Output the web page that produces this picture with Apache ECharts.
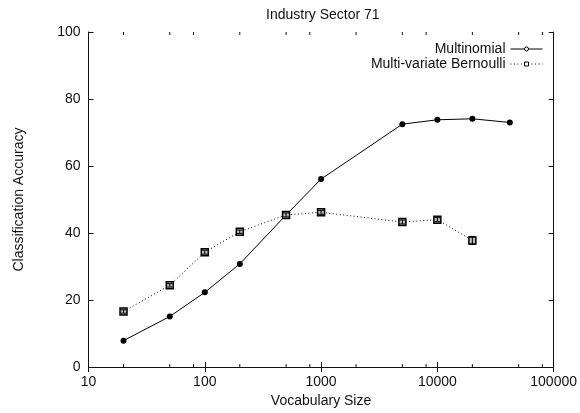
<!DOCTYPE html>
<html>
<head>
<meta charset="utf-8">
<script src="https://cdn.jsdelivr.net/npm/echarts@6/dist/echarts.min.js"></script>
<style>
  html, body { margin: 0; padding: 0; background: #fff; }
  #chart { width: 580px; height: 413px; }
</style>
</head>
<body>
<div id="chart"></div>
<script>
// vocabulary sizes and accuracies
const multinomialX = [20, 50, 100, 200, 500, 1000, 5000, 10000, 20000, 42000]
const multinomialY = [7.9, 15.1, 22.3, 30.8, 45.4, 56.1, 72.5, 73.8, 74.1, 73.0]
const bernoulliX = [20, 50, 100, 200, 500, 1000, 5000, 10000, 20000]
const bernoulliY = [16.6, 24.4, 34.3, 40.4, 45.4, 46.2, 43.3, 44.0, 37.8]
const bernoulliErr = [0.5, 0.5, 0.6, 0.5, 0.6, 0.6, 0.6, 0.6, 1.2]
const minorTicks = [20, 50, 80, 200, 500, 800, 2000, 5000, 8000, 20000, 50000, 80000]

const font = 'Liberation Sans, Arial, Helvetica, sans-serif'
const ink = '#111'
const dots = [1, 2.5]

let multinomialData = multinomialX.map((x, i) => [x, multinomialY[i]])
let bernoulliData = bernoulliX.map((x, i) => [x, bernoulliY[i]])
let errData = bernoulliX.map((x, i) => [x, bernoulliY[i] - bernoulliErr[i], bernoulliY[i] + bernoulliErr[i]])
let minorData = minorTicks.map(x => [x, 0])

function logLabel(v) {
  return String(Math.round(v))
}

let xCommon = {
  type: 'log',
  logBase: 10,
  min: 10,
  max: 100000,
  splitNumber: 4,
  axisLine: { show: true, lineStyle: { color: ink, width: 1 } },
  axisTick: { show: true, inside: true, length: 5, lineStyle: { color: ink } },
  splitLine: { show: false },
}
let yCommon = {
  type: 'value',
  min: 0,
  max: 100,
  interval: 20,
  axisLine: { show: true, lineStyle: { color: ink, width: 1 } },
  axisTick: { show: true, inside: true, length: 5, lineStyle: { color: ink } },
  splitLine: { show: false },
}

let legendCommon = {
  orient: 'vertical',
  align: 'right',
  right: 37,
  padding: 0,
  itemWidth: 32,
  itemHeight: 5,
  itemGap: 4,
  textStyle: { fontFamily: font, fontSize: 14, color: ink }
}

let option = {
  animation: false,
  backgroundColor: '#fff',
  textStyle: { fontFamily: font },
  title: {
    text: 'Industry Sector 71',
    left: 266,
    top: 8,
    padding: 0,
    textStyle: { fontFamily: font, fontSize: 14, fontWeight: 'normal', color: ink }
  },
  legend: [
    Object.assign({}, legendCommon, {
      top: 42,
      data: [{
        name: 'Multinomial',
        itemStyle: { color: '#fff', borderColor: '#000', borderWidth: 1 },
        lineStyle: { width: 1, color: '#000', type: 'solid' }
      }]
    }),
    Object.assign({}, legendCommon, {
      top: 57,
      data: [{
        name: 'Multi-variate Bernoulli',
        itemStyle: { color: '#fff', borderColor: '#000', borderWidth: 1 },
        lineStyle: { width: 1, color: '#000', type: dots }
      }]
    })
  ],
  grid: { left: 88.5, right: 23.3, top: 32, bottom: 39 },
  xAxis: [
    Object.assign({}, xCommon, {
      position: 'bottom',
      name: 'Vocabulary Size',
      nameLocation: 'middle',
      nameGap: 20,
      nameTextStyle: { fontFamily: font, fontSize: 14, color: ink },
      axisLabel: { margin: 8, fontSize: 14, color: ink, fontFamily: font, formatter: logLabel }
    }),
    Object.assign({}, xCommon, {
      position: 'top',
      axisLabel: { show: false }
    })
  ],
  yAxis: [
    Object.assign({}, yCommon, {
      position: 'left',
      name: 'Classification Accuracy',
      nameLocation: 'middle',
      nameGap: 62,
      nameTextStyle: { fontFamily: font, fontSize: 14, color: ink },
      axisLabel: { margin: 8, fontSize: 14, color: ink, fontFamily: font }
    }),
    Object.assign({}, yCommon, {
      position: 'right',
      axisLabel: { show: false }
    })
  ],
  series: [
    {
      name: 'Multinomial',
      type: 'line',
      data: multinomialData,
      symbol: 'circle',
      symbolSize: 6,
      lineStyle: { color: '#000', width: 1, type: 'solid' },
      itemStyle: { color: '#000' },
      z: 3
    },
    {
      name: 'Multi-variate Bernoulli',
      type: 'line',
      data: bernoulliData,
      symbol: 'rect',
      symbolSize: 7,
      lineStyle: { color: '#000', width: 1, type: dots },
      itemStyle: { color: '#bbb', borderColor: '#000', borderWidth: 1.5 },
      z: 3
    },
    {
      // error bars on the Bernoulli points
      type: 'custom',
      data: errData,
      encode: { x: 0, y: [1, 2] },
      z: 4,
      silent: true,
      renderItem: function (params, api) {
        let x = api.value(0)
        let lo = api.coord([x, api.value(1)])
        let hi = api.coord([x, api.value(2)])
        let w = 3
        let st = { stroke: '#000', lineWidth: 1 }
        return {
          type: 'group',
          children: [
            { type: 'line', shape: { x1: lo[0], y1: lo[1], x2: hi[0], y2: hi[1] }, style: st },
            { type: 'line', shape: { x1: lo[0] - w, y1: lo[1], x2: lo[0] + w, y2: lo[1] }, style: st },
            { type: 'line', shape: { x1: hi[0] - w, y1: hi[1], x2: hi[0] + w, y2: hi[1] }, style: st }
          ]
        }
      }
    },
    {
      // minor ticks on top and bottom log axes
      type: 'custom',
      data: minorData,
      encode: { x: 0, y: 1 },
      z: 5,
      silent: true,
      renderItem: function (params, api) {
        let x = api.value(0)
        let b = api.coord([x, 0])
        let t = api.coord([x, 100])
        let st = { stroke: ink, lineWidth: 1 }
        return {
          type: 'group',
          children: [
            { type: 'line', shape: { x1: b[0], y1: b[1], x2: b[0], y2: b[1] - 3 }, style: st },
            { type: 'line', shape: { x1: t[0], y1: t[1], x2: t[0], y2: t[1] + 3 }, style: st }
          ]
        }
      }
    }
  ]
}

var chartDom = document.getElementById('chart')
var myChart = echarts.init(chartDom)
myChart.setOption(option)
</script>
</body>
</html>
